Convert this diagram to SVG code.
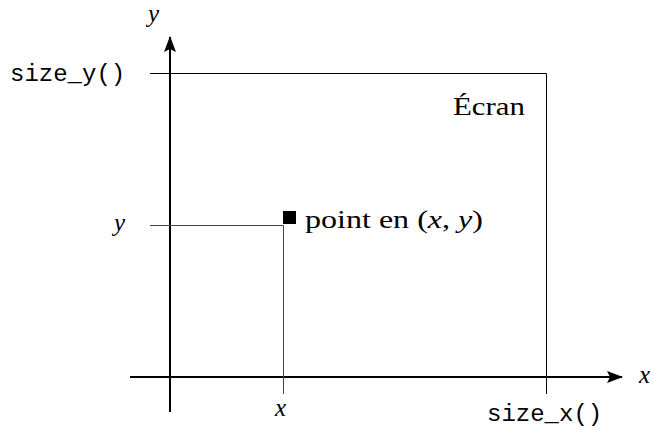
<svg xmlns="http://www.w3.org/2000/svg" width="654" height="430" viewBox="0 0 654 430">
<style>
.ax{stroke:#000;stroke-width:2;fill:none}
.thin{stroke:#000;stroke-width:1;fill:none}
.gray{stroke:#444;stroke-width:1;fill:none}
.serif{font-family:"Liberation Serif",serif;font-size:25px;fill:#000}
.math{font-family:"Liberation Serif",serif;font-style:italic;font-size:25px;fill:#000}
.mono{font-family:"Liberation Mono",monospace;font-size:24px;fill:#000}
</style>
<defs>
<marker id="arr" markerWidth="16" markerHeight="12" refX="15" refY="6" orient="auto" markerUnits="userSpaceOnUse">
<path d="M0,0 L16,6 L0,12 L3,6 Z" fill="#000"/>
</marker>
</defs>
<g id="connectors">
<line class="ax" x1="170" y1="412" x2="170" y2="37" marker-end="url(#arr)"/>
<line class="ax" x1="130" y1="377" x2="622" y2="377" marker-end="url(#arr)"/>
<polyline class="thin" points="150,73.5 546.5,73.5 546.5,394"/>
<polyline class="gray" points="150,225.5 283.5,225.5 283.5,394"/>
</g>
<g id="point">
<rect x="283" y="211" width="13" height="13" fill="#000"/>
<text class="serif" x="305" y="228" textLength="178" lengthAdjust="spacingAndGlyphs">point en (<tspan class="math">x</tspan>, <tspan class="math">y</tspan>)</text>
</g>
<g id="ecran"><text class="serif" x="453" y="115" textLength="72" lengthAdjust="spacingAndGlyphs">Écran</text></g>
<g id="labels">
<text class="math" x="148" y="22">y</text>
<text class="mono" x="10" y="81">size_y()</text>
<text class="math" x="114" y="231">y</text>
<text class="math" x="275" y="416">x</text>
<text class="mono" x="487" y="421">size_x()</text>
<text class="math" x="639" y="383">x</text>
</g>
</svg>
